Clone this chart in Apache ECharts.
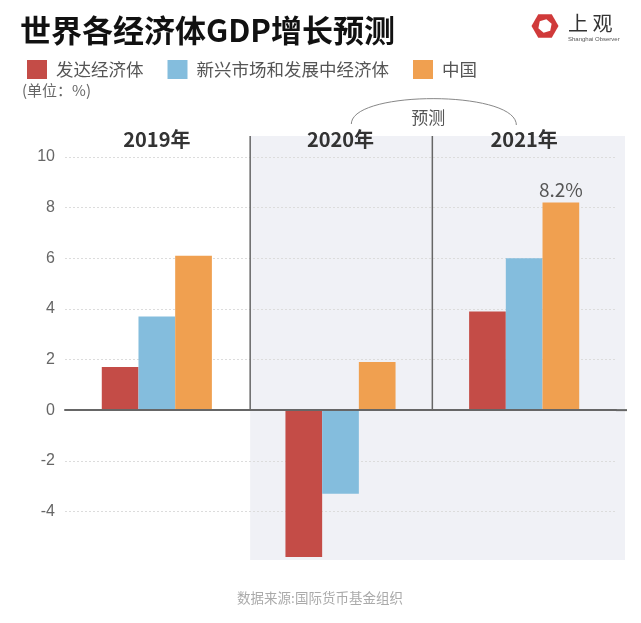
<!DOCTYPE html>
<html>
<head>
<meta charset="utf-8">
<script src="https://cdn.jsdelivr.net/npm/echarts@6/dist/echarts.min.js"></script>
<style>
html,body{margin:0;padding:0;background:#fff;}
#chart{width:641px;height:623px;}
</style>
</head>
<body>
<div id="chart"></div>
<script>
// ---- data ----
var categories = ['2019年', '2020年', '2021年'];
var seriesNames = ['发达经济体', '新兴市场和发展中经济体', '中国'];
var advanced = [1.7, -5.8, 3.9];
var emerging = [3.7, -3.3, 6.0];
var china = [6.1, 1.9, 8.2];
var yTicks = { min: -6, max: 10, interval: 2 };

var FONT = '"Noto Sans CJK SC", "Noto Sans", sans-serif';
var colors = ['#c44c47', '#84bddd', '#f0a050'];

var chart = echarts.init(document.getElementById('chart'));

var chinaData = china.map(function (v, i) {
  if (i === 2) {
    return { value: v, label: { show: true, position: 'top', distance: 3, formatter: '{c}%', fontSize: 19, color: '#555', fontFamily: FONT } };
  }
  return v;
});

function barSeries(name, data, color) {
  return {
    name: name, type: 'bar', data: data, barWidth: 36.7, barGap: '0%',
    itemStyle: { color: color }, z: 3
  };
}

var option = {
  backgroundColor: '#fff',
  animation: false,
  textStyle: { fontFamily: FONT },
  legend: {
    left: 22, top: 55, icon: 'rect', itemWidth: 20, itemHeight: 19, itemGap: 24,
    textStyle: { fontSize: 17.5, color: '#555', padding: [0, 0, 0, 4], fontFamily: FONT },
    data: seriesNames
  },
  grid: { left: 65, right: 25, top: 157, bottom: 61, containLabel: false },
  xAxis: [
    {
      type: 'category', data: categories, position: 'bottom',
      axisLine: { onZero: true, lineStyle: { color: '#666', width: 2 } },
      axisTick: { show: false }, axisLabel: { show: false }, z: 4
    },
    {
      type: 'category', data: categories, position: 'top',
      axisLine: { show: false }, axisTick: { show: false },
      axisLabel: { fontSize: 20, fontWeight: 'bold', color: '#333', margin: 8, fontFamily: FONT }
    }
  ],
  yAxis: {
    type: 'value', min: yTicks.min, max: yTicks.max, interval: yTicks.interval,
    axisLine: { show: false }, axisTick: { show: false },
    axisLabel: { fontSize: 16, color: '#666', margin: 10, showMinLabel: false, fontFamily: '"Liberation Sans", Arial, sans-serif' },
    splitLine: { show: true, showMinLine: false, lineStyle: { color: '#dcdcdc', type: [2, 2], width: 1 } }
  },
  series: [
    barSeries(seriesNames[0], advanced, colors[0]),
    barSeries(seriesNames[1], emerging, colors[1]),
    Object.assign(barSeries(seriesNames[2], chinaData, colors[2]), {})
  ]
};
chart.setOption(option);

// decorations positioned from the chart's own scales
var c0 = chart.convertToPixel({ xAxisIndex: 0 }, categories[0]);
var c1 = chart.convertToPixel({ xAxisIndex: 0 }, categories[1]);
var c2 = chart.convertToPixel({ xAxisIndex: 0 }, categories[2]);
var b1 = (c0 + c1) / 2 + 1.5;
var b2 = (c1 + c2) / 2;
var yTop = chart.convertToPixel({ yAxisIndex: 0 }, yTicks.max) - 21;
var yZero = chart.convertToPixel({ yAxisIndex: 0 }, 0);
var yBot = chart.convertToPixel({ yAxisIndex: 0 }, yTicks.min) - 2;
var gridRight = 641 - 25;

// hexagon helper for logo
function hexPoints(cx, cy, r, rot) {
  var pts = [];
  for (var k = 0; k < 6; k++) {
    var a = rot + k * Math.PI / 3;
    pts.push([cx + r * Math.cos(a), cy + r * Math.sin(a)]);
  }
  return pts;
}

chart.setOption({
  graphic: [
    { type: 'rect', z: -10, silent: true, shape: { x: b1, y: yTop, width: gridRight + 9 - b1, height: yBot - yTop }, style: { fill: '#f0f1f6' } },
    { type: 'line', z: 5, shape: { x1: b1, y1: yTop, x2: b1, y2: yZero }, style: { stroke: '#666', lineWidth: 1.5 } },
    { type: 'line', z: 5, shape: { x1: b2, y1: yTop, x2: b2, y2: yZero }, style: { stroke: '#666', lineWidth: 1.5 } },
    { type: 'line', z: 5, shape: { x1: gridRight, y1: yZero, x2: gridRight + 11, y2: yZero }, style: { stroke: '#666', lineWidth: 2 } },
    { type: 'bezierCurve', z: 5, shape: { x1: b2 - 81, y1: yTop - 12, cpx1: b2 - 81, cpy1: yTop - 46, cpx2: b2 + 84, cpy2: yTop - 46, x2: b2 + 84, y2: yTop - 11 }, style: { stroke: '#888', lineWidth: 1, fill: null } },
    { type: 'text', z: 6, x: b2 - 4, y: yTop - 18, style: { text: '预测', fontSize: 17, fill: '#555', fontFamily: FONT, align: 'center', verticalAlign: 'middle' } },
    { type: 'text', left: 20, top: 15, style: { text: '世界各经济体GDP增长预测', fontSize: 31, fontWeight: 'bold', fill: '#111', fontFamily: FONT } },
    { type: 'text', left: 22, top: 83, style: { text: '(单位：%)', fontSize: 15, fill: '#666', fontFamily: FONT } },
    { type: 'text', x: 320, y: 598, style: { text: '数据来源:国际货币基金组织', fontSize: 13.5, fill: '#aaa', fontFamily: FONT, align: 'center', verticalAlign: 'middle' } },
    { type: 'polygon', shape: { points: hexPoints(545, 26, 13.5, 0) }, style: { fill: '#d03a3a' } },
    { type: 'polygon', shape: { points: hexPoints(545, 26, 7, Math.PI / 6 + 0.2) }, style: { fill: '#fff' } },
    { type: 'text', x: 568, y: 23, style: { text: '上 观', fontSize: 20, fill: '#333', fontFamily: FONT, verticalAlign: 'middle' } },
    { type: 'text', x: 568, y: 39, style: { text: 'Shanghai Observer', fontSize: 6, fill: '#555', fontFamily: '"Liberation Sans", sans-serif', verticalAlign: 'middle' } }
  ]
});
</script>
</body>
</html>
